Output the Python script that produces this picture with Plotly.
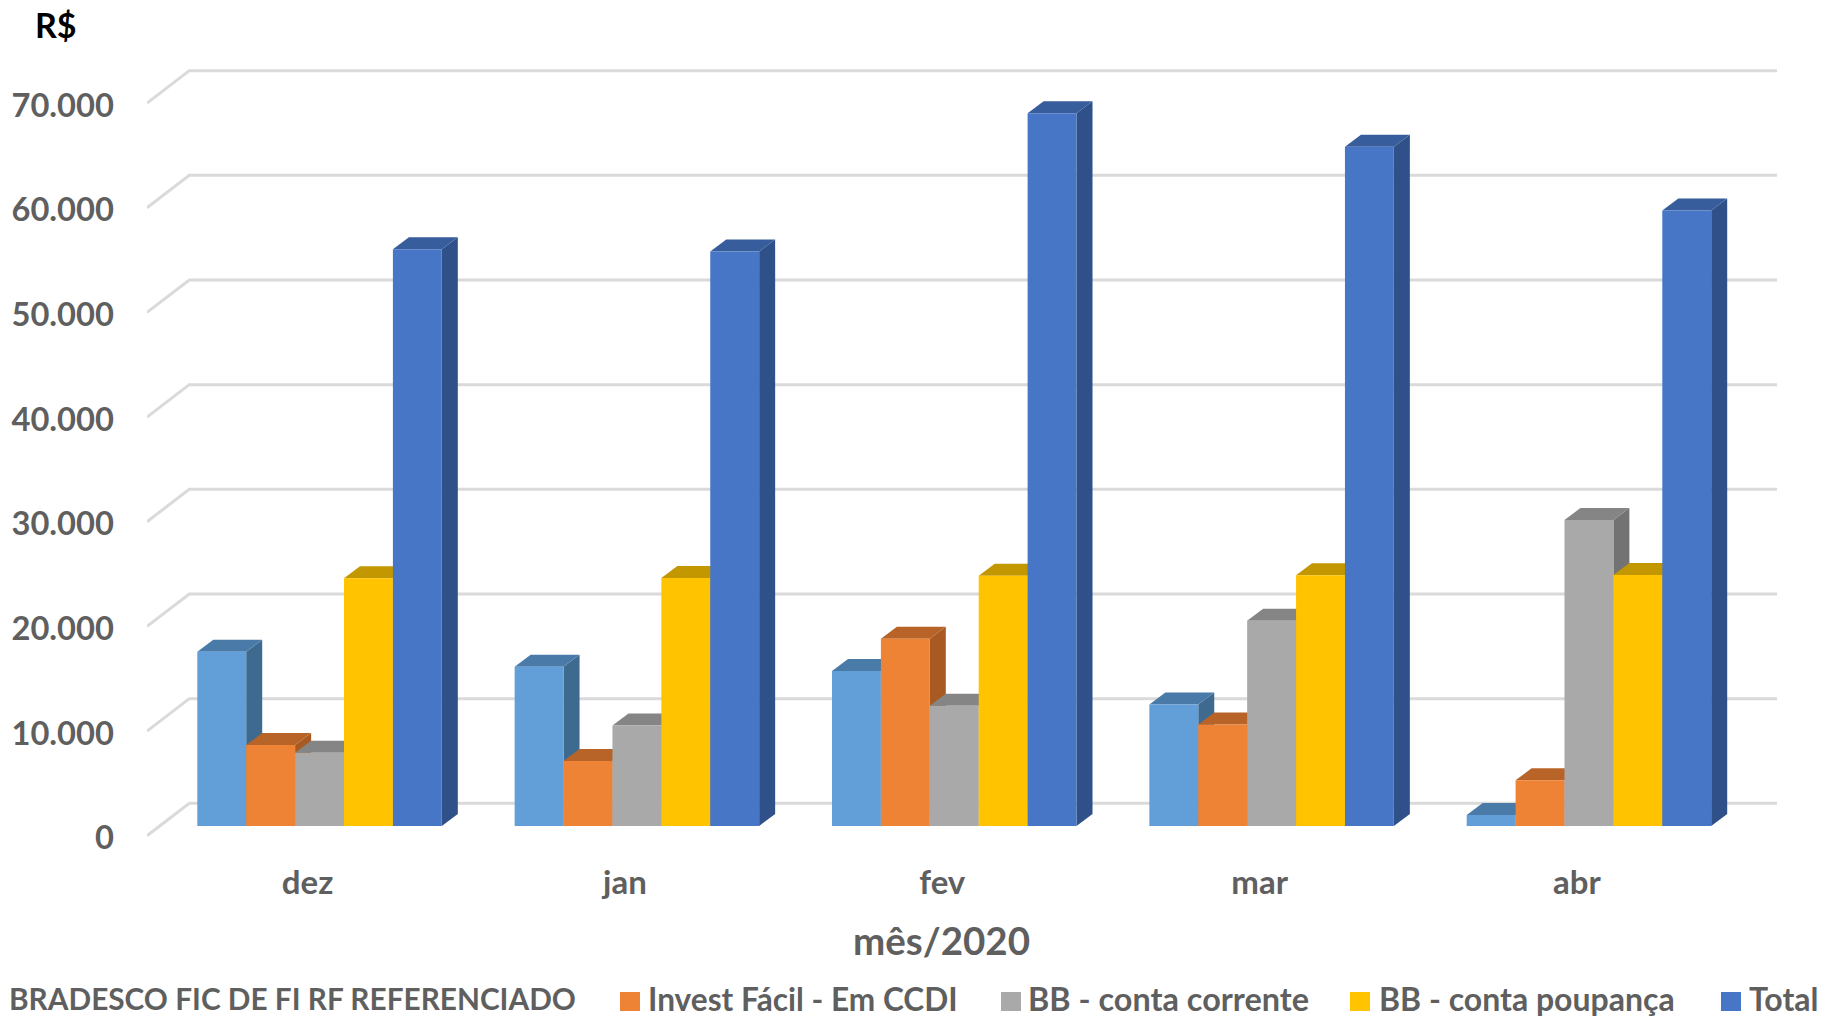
import plotly.graph_objects as go

months = ["dez", "jan", "fev", "mar", "abr"]
series_names = ["BRADESCO FIC DE FI RF REFERENCIADO", "Invest Fácil - Em CCDI",
                "BB - conta corrente", "BB - conta poupança", "Total"]
bradesco = [16650, 15220, 14800, 11600, 1050]
invest = [7740, 6210, 17900, 9700, 4360]
bb_cc = [7010, 9600, 11500, 19600, 29240]
bb_poup = [23670, 23700, 23900, 23950, 23980]
total = [55100, 54900, 68100, 64900, 58800]
y_ticks = [0, 10000, 20000, 30000, 40000, 50000, 60000, 70000]
y_labels = ["0", "10.000", "20.000", "30.000", "40.000", "50.000", "60.000", "70.000"]

all_series = [bradesco, invest, bb_cc, bb_poup, total]
front = ["#629FD8", "#EE8235", "#A9A9A9", "#FFC300", "#4876C6"]
top = ["#4A7BA8", "#B86428", "#858585", "#C29700", "#385D9C"]
side = ["#3F6A90", "#A85A22", "#737373", "#A88200", "#2F5088"]

W, H = 1833, 1019
ML, MR, MT, MB = 147, 56, 60, 179
PX_GROUP, X_ZERO = 317.35, 319.55
PX_VAL, Y_ZERO = 0.010466, 826.0
x_rng = [(ML - X_ZERO) / PX_GROUP, (W - MR - X_ZERO) / PX_GROUP]
y_rng = [(Y_ZERO - (H - MB)) / PX_VAL, (Y_ZERO - MT) / PX_VAL]

BAR_W = 48.9 / PX_GROUP
DX, DY = 16.0 / PX_GROUP, 12.0 / PX_VAL
WALL_X = (189.3 - X_ZERO) / PX_GROUP
WALL_FRONT, WALL_BACK = 9.7 / PX_VAL, 22.7 / PX_VAL
GRID = "#DADADA"
TXT = "#5F5F5F"
FONT = "Lato"

def poly(points, color):
    d = "M " + " L ".join(f"{x},{y}" for x, y in points) + " Z"
    return dict(type="path", path=d, xref="x", yref="y", fillcolor=color,
                line=dict(width=0), layer="below")

shapes = []
for v in y_ticks:
    shapes.append(dict(
        type="path", xref="x", yref="y", layer="below",
        path=f"M {x_rng[0]},{v - WALL_FRONT} L {WALL_X},{v + WALL_BACK} L {x_rng[1]},{v + WALL_BACK}",
        line=dict(color=GRID, width=3)))

for g in range(len(months)):
    for s, vals in enumerate(all_series):
        v = vals[g]
        xa = g + (s - 2.5) * BAR_W
        xb = xa + BAR_W
        shapes.append(poly([(xb, 0), (xb + DX, DY), (xb + DX, v + DY), (xb, v)], side[s]))
        shapes.append(poly([(xa, v), (xa + DX, v + DY), (xb + DX, v + DY), (xb, v)], top[s]))

fig = go.Figure()
for s, vals in enumerate(all_series):
    fig.add_trace(go.Bar(x=list(range(len(months))), y=vals, name=series_names[s],
                         marker=dict(color=front[s], line=dict(width=0)),
                         showlegend=False))

def pxx(p):
    return (p - ML) / (W - ML - MR)

def pxy(p):
    return 1 - (p - MT) / (H - MT - MB)

anns = [
    dict(text="<b>R$</b>", x=pxx(33), y=pxy(25), xanchor="left", yanchor="middle",
         font=dict(family=FONT, size=34, color="#000000")),
    dict(text="<b>mês/2020</b>", x=pxx(941), y=pxy(940), xanchor="center", yanchor="middle",
         font=dict(family=FONT, size=38.5, color=TXT)),
]
legend_text_x = [7, 646, 1026, 1377, 1747]
legend_swatch_x = [None, 620, 1001, 1350, 1721]
legend_sizes = [29.8, 31.6, 32.4, 32, 32]
for s, name in enumerate(series_names):
    anns.append(dict(text=f"<b>{name}</b>", x=pxx(legend_text_x[s]), y=pxy(998.5),
                     xanchor="left", yanchor="middle",
                     font=dict(family=FONT, size=legend_sizes[s], color=TXT)))
    if legend_swatch_x[s] is not None:
        shapes.append(dict(type="rect", xref="paper", yref="paper", layer="above",
                           x0=pxx(legend_swatch_x[s]), x1=pxx(legend_swatch_x[s] + 20),
                           y0=pxy(1011), y1=pxy(992), fillcolor=front[s], line=dict(width=0)))
for a in anns:
    a.update(xref="paper", yref="paper", showarrow=False)

fig.update_layout(
    width=W, height=H, margin=dict(l=ML, r=MR, t=MT, b=MB), autosize=False,
    barmode="group", bargap=1 - 5 * BAR_W, bargroupgap=0,
    paper_bgcolor="white", plot_bgcolor="rgba(0,0,0,0)",
    shapes=shapes, annotations=anns,
    font=dict(family=FONT, color=TXT),
    xaxis=dict(range=x_rng, tickvals=list(range(len(months))), ticktext=months,
               showgrid=False, zeroline=False, showline=False, ticks="",
               ticklabelshift=-12, ticklabelstandoff=20,
               tickfont=dict(family=FONT, size=33, color=TXT, weight=700)),
    yaxis=dict(range=y_rng, tickvals=y_ticks, ticktext=y_labels,
               showgrid=False, zeroline=False, showline=False, ticks="",
               ticklabelshift=12, ticklabelstandoff=32,
               tickfont=dict(family=FONT, size=32.7, color=TXT, weight=700)),
)
fig.write_html("out.html", config=dict(displayModeBar=False),
               post_script="document.body.style.margin='0';")
